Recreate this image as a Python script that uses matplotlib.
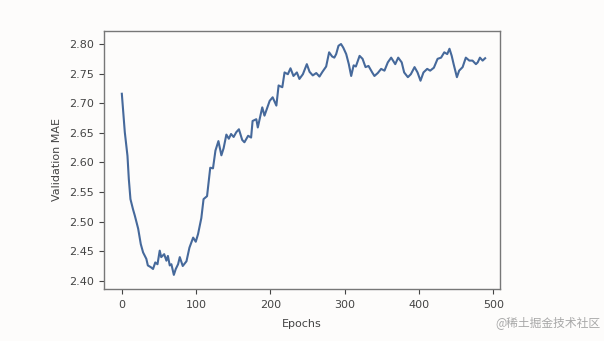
# Validation MAE by epoch (smoothed curve)
import numpy as np
import matplotlib.pyplot as plt

# Values
epochs = [0, 4, 7.6, 9.4, 11.6, 15, 17.5, 19.7, 22, 25.5, 28.6, 31, 33, 35, 39, 42, 45, 48,
          51, 53, 57, 60, 62, 64.5, 66.7, 70, 72.6, 75.7, 78, 82, 87, 91, 96, 99.5, 102.6,
          107, 110, 114.7, 119, 122.7, 126, 130, 134, 137, 140.7, 144, 147, 150.5, 154,
          157.6, 162, 165, 170, 174, 176, 181, 183, 189, 192, 199, 203, 208, 211, 216, 219,
          223.5, 227, 231, 235.6, 239, 243.7, 249, 252.7, 257, 261.7, 266, 270, 275, 279,
          283, 286, 288.5, 291.6, 295, 298, 302, 305.5, 308.7, 312, 315, 320, 324, 328, 332,
          337, 340, 344.5, 349, 353.5, 358, 362.5, 365, 368, 372, 376.7, 380, 385, 389, 394,
          398, 402, 406, 411, 415, 420, 425, 429.7, 434, 438, 441, 444, 446.6, 451, 454,
          458.7, 463, 467.7, 472, 476.6, 479, 482, 485.6, 489]
val_mae = [2.716, 2.651, 2.611, 2.572, 2.538, 2.521, 2.510, 2.499, 2.488, 2.462, 2.448, 2.442,
           2.437, 2.426, 2.423, 2.420, 2.431, 2.428, 2.451, 2.440, 2.445, 2.434, 2.442, 2.426,
           2.428, 2.410, 2.420, 2.428, 2.440, 2.425, 2.433, 2.456, 2.473, 2.466, 2.479, 2.506,
           2.538, 2.543, 2.591, 2.590, 2.620, 2.636, 2.612, 2.624, 2.647, 2.640, 2.648, 2.643,
           2.651, 2.656, 2.638, 2.634, 2.645, 2.642, 2.670, 2.673, 2.659, 2.693, 2.679, 2.704,
           2.710, 2.696, 2.730, 2.727, 2.752, 2.749, 2.759, 2.746, 2.752, 2.741, 2.749, 2.766,
           2.753, 2.747, 2.751, 2.745, 2.753, 2.762, 2.786, 2.779, 2.777, 2.783, 2.797, 2.800,
           2.794, 2.783, 2.766, 2.746, 2.764, 2.762, 2.780, 2.775, 2.761, 2.763, 2.752, 2.746,
           2.751, 2.758, 2.755, 2.769, 2.777, 2.772, 2.766, 2.777, 2.769, 2.752, 2.744, 2.749,
           2.761, 2.752, 2.738, 2.752, 2.758, 2.755, 2.760, 2.775, 2.777, 2.786, 2.783, 2.792,
           2.780, 2.766, 2.744, 2.755, 2.761, 2.777, 2.772, 2.772, 2.766, 2.769, 2.777, 2.772,
           2.776]
x_ticks = [0, 100, 200, 300, 400, 500]
y_ticks = [2.40, 2.45, 2.50, 2.55, 2.60, 2.65, 2.70, 2.75, 2.80]

bg = '#fdfcfb'
fig = plt.figure(figsize=(6.04, 3.41), dpi=100, facecolor=bg)
ax = fig.add_axes([104/604, 1 - 288.5/341, (500-104)/604, (288.5-31)/341])
ax.set_facecolor(bg)

ax.plot(epochs, val_mae, color='#46699b', linewidth=1.5)

ax.set_xlim(-24, 509)
ax.set_ylim(2.387, 2.822)
ax.set_xticks(x_ticks)
ax.set_yticks(y_ticks)
ax.set_yticklabels(['%.2f' % v for v in y_ticks])
ax.tick_params(labelsize=8, colors='#444444', length=3.5)
ax.tick_params(axis='x', pad=4.5)
for s in ax.spines.values():
    s.set_color('#777777')
    s.set_linewidth(1.0)

ax.set_xlabel('Epochs', fontsize=8, color='#444444', labelpad=7)
ax.set_ylabel('Validation MAE', fontsize=8, color='#444444', labelpad=5)

fig.text(0.995, 0.035, '@稀土掘金技术社区', ha='right', va='bottom', fontsize=8.5,
         color='#a8a8a8', family=['Noto Sans CJK SC', 'DejaVu Sans'])

plt.savefig('out.png', dpi=100, facecolor=bg)
